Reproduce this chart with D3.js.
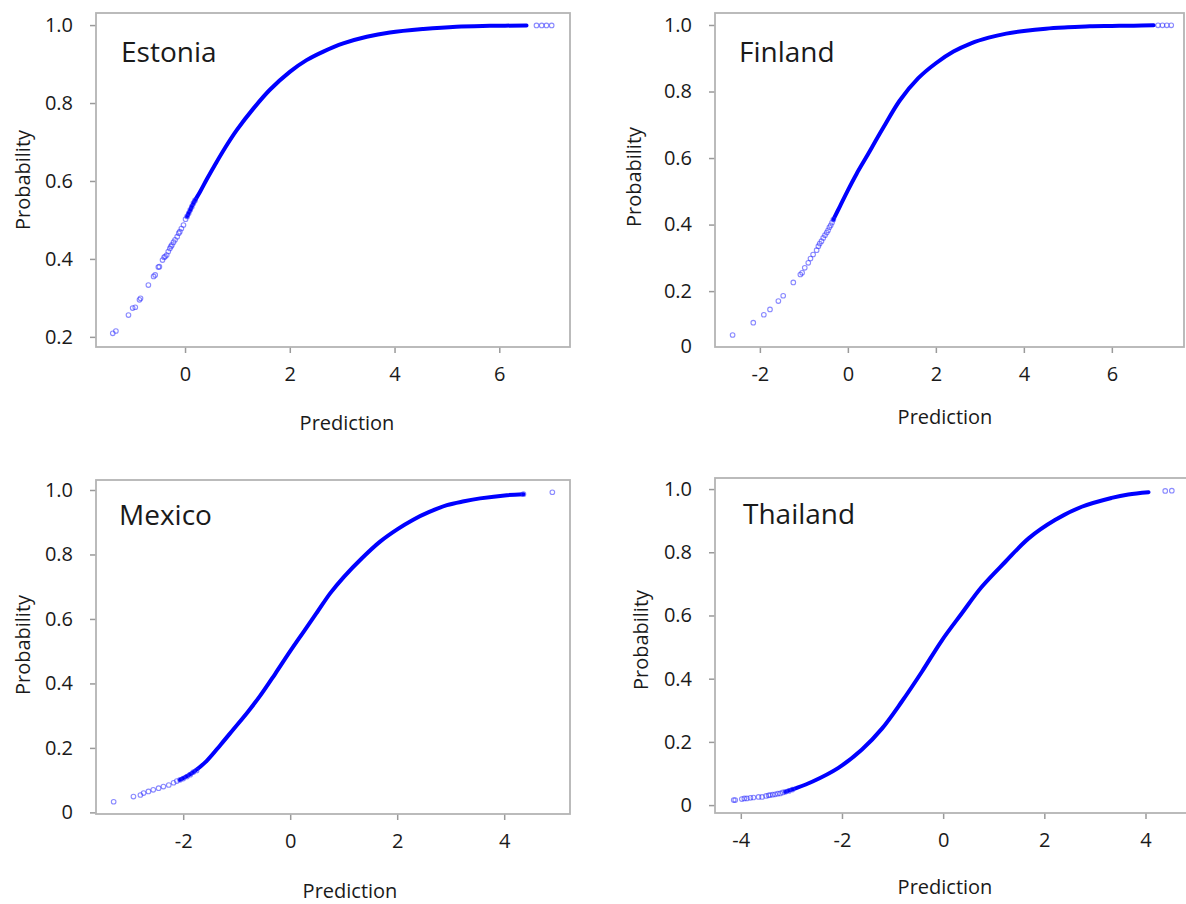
<!DOCTYPE html>
<html>
<head>
<meta charset="utf-8">
<script src="https://cdn.jsdelivr.net/npm/d3@7"></script>
<style>
    body { margin: 0; background: white; }
    text { font-family: "Open Sans", "Noto Sans", sans-serif; fill: #1a1a1a; }
</style>
</head>
<body>
<div id="ChartContainer"></div>
<script>
// values
const Countries = ["Estonia", "Finland", "Mexico", "Thailand"];

const EstoniaDotX = [-1.38, -1.32, -1.08, -1.00, -0.95, -0.87, -0.85, -0.70, -0.60, -0.57, -0.51, -0.49, -0.43, -0.40, -0.38, -0.35, -0.32, -0.29, -0.27, -0.25, -0.22, -0.19, -0.15, -0.12, -0.10, -0.07, -0.03, 0.01, 0.04, 0.07, 0.10, 0.13, 0.16, 0.19, 6.71, 6.81, 6.90, 7.00];
const EstoniaDotY = [0.209, 0.215, 0.256, 0.274, 0.276, 0.295, 0.299, 0.333, 0.355, 0.359, 0.379, 0.380, 0.397, 0.404, 0.406, 0.410, 0.419, 0.427, 0.432, 0.436, 0.443, 0.449, 0.457, 0.466, 0.470, 0.478, 0.487, 0.502, 0.509, 0.517, 0.526, 0.534, 0.543, 0.550, 0.999, 0.999, 0.999, 0.999];
const EstoniaLineX = [0.04, 0.10, 0.16, 0.29, 0.41, 0.57, 0.76, 0.99, 1.30, 1.62, 2.00, 2.32, 2.64, 3.02, 3.47, 3.91, 4.55, 5.18, 5.82, 6.52];
const EstoniaLineY = [0.509, 0.526, 0.543, 0.573, 0.603, 0.641, 0.684, 0.731, 0.785, 0.834, 0.880, 0.910, 0.932, 0.953, 0.970, 0.981, 0.990, 0.996, 0.998, 0.999];

const FinlandDotX = [-2.62, -2.15, -1.91, -1.77, -1.58, -1.47, -1.24, -1.08, -1.04, -0.98, -0.90, -0.85, -0.79, -0.71, -0.67, -0.64, -0.60, -0.56, -0.52, -0.48, -0.45, -0.42, -0.39, -0.36, -0.33, 7.05, 7.15, 7.25, 7.35];
const FinlandDotY = [0.068, 0.105, 0.129, 0.145, 0.170, 0.186, 0.226, 0.250, 0.255, 0.270, 0.285, 0.298, 0.310, 0.323, 0.335, 0.343, 0.350, 0.360, 0.368, 0.376, 0.383, 0.392, 0.398, 0.406, 0.415, 0.999, 0.999, 0.999, 0.999];
const FinlandLineX = [-0.33, -0.18, 0.00, 0.20, 0.42, 0.80, 1.18, 1.60, 2.00, 2.40, 2.80, 3.20, 3.60, 4.00, 4.50, 5.00, 5.50, 6.00, 6.50, 6.95];
const FinlandLineY = [0.415, 0.455, 0.503, 0.553, 0.603, 0.690, 0.773, 0.840, 0.885, 0.920, 0.945, 0.962, 0.974, 0.982, 0.989, 0.993, 0.996, 0.997, 0.998, 0.999];

const MexicoDotX = [-3.30, -2.93, -2.80, -2.74, -2.65, -2.56, -2.46, -2.37, -2.27, -2.18, -2.12, -2.06, -2.00, -1.93, -1.87, -1.81, -1.75, 4.36, 4.90];
const MexicoDotY = [0.033, 0.049, 0.054, 0.060, 0.065, 0.070, 0.075, 0.080, 0.085, 0.092, 0.097, 0.101, 0.105, 0.111, 0.117, 0.125, 0.130, 0.987, 0.993];
const MexicoLineX = [-2.06, -1.81, -1.56, -1.30, -1.06, -0.80, -0.56, -0.28, 0.00, 0.25, 0.50, 0.75, 1.00, 1.35, 1.68, 2.00, 2.30, 2.60, 2.93, 3.25, 3.55, 4.05, 4.36];
const MexicoLineY = [0.101, 0.125, 0.160, 0.210, 0.258, 0.310, 0.362, 0.430, 0.500, 0.560, 0.620, 0.680, 0.730, 0.790, 0.840, 0.878, 0.908, 0.932, 0.953, 0.965, 0.974, 0.984, 0.987];

const ThailandDotX = [-4.14, -4.11, -3.98, -3.93, -3.88, -3.81, -3.75, -3.65, -3.58, -3.50, -3.45, -3.42, -3.37, -3.32, -3.27, -3.22, -3.17, -3.12, -3.05, -2.98, 4.39, 4.52];
const ThailandDotY = [0.016, 0.016, 0.019, 0.021, 0.021, 0.023, 0.024, 0.026, 0.026, 0.029, 0.031, 0.032, 0.033, 0.034, 0.036, 0.037, 0.040, 0.042, 0.045, 0.049, 0.994, 0.995];
const ThailandLineX = [-3.12, -2.92, -2.59, -2.07, -1.61, -1.21, -0.82, -0.42, -0.03, 0.37, 0.76, 1.23, 1.69, 2.21, 2.74, 3.33, 3.66, 4.06];
const ThailandLineY = [0.042, 0.053, 0.074, 0.118, 0.175, 0.242, 0.327, 0.422, 0.520, 0.607, 0.690, 0.770, 0.844, 0.902, 0.944, 0.972, 0.983, 0.990];

const EstoniaXTicks = [0, 2, 4, 6];
const FinlandXTicks = [-2, 0, 2, 4, 6];
const MexicoXTicks = [-2, 0, 2, 4];
const ThailandXTicks = [-4, -2, 0, 2, 4];
const EstoniaYTicks = [0.2, 0.4, 0.6, 0.8, 1.0];
const FinlandYTicks = [0, 0.2, 0.4, 0.6, 0.8, 1.0];
const MexicoYTicks = [0, 0.2, 0.4, 0.6, 0.8, 1.0];
const ThailandYTicks = [0, 0.2, 0.4, 0.6, 0.8, 1.0];

const XLabel = "Prediction";
const YLabel = "Probability";

function Pairs(Xs, Ys)
{
    return Xs.map((x, i) => ({ x: x, y: Ys[i] }));
}

const Panels =
[
    { Name: Countries[0], Box: [96, 13, 570, 347], XDomain: [-1.70, 7.35], YDomain: [0.174, 1.031],
      Dots: Pairs(EstoniaDotX, EstoniaDotY), Line: Pairs(EstoniaLineX, EstoniaLineY),
      XTicks: EstoniaXTicks, YTicks: EstoniaYTicks, Title: [121, 62], XLab: [347, 430], YLab: [23, 180] },
    { Name: Countries[1], Box: [715, 13, 1184, 347], XDomain: [-3.02, 7.64], YDomain: [0.032, 1.036],
      Dots: Pairs(FinlandDotX, FinlandDotY), Line: Pairs(FinlandLineX, FinlandLineY),
      XTicks: FinlandXTicks, YTicks: FinlandYTicks, Title: [739, 62], XLab: [945, 424], YLab: [634, 177] },
    { Name: Countries[2], Box: [96, 480, 570, 814], XDomain: [-3.63, 5.23], YDomain: [-0.005, 1.031],
      Dots: Pairs(MexicoDotX, MexicoDotY), Line: Pairs(MexicoLineX, MexicoLineY),
      XTicks: MexicoXTicks, YTicks: MexicoYTicks, Title: [119, 525], XLab: [350, 898], YLab: [23, 645] },
    { Name: Countries[3], Box: [715, 478, 1188, 813], XDomain: [-4.51, 4.84], YDomain: [-0.025, 1.035],
      Dots: Pairs(ThailandDotX, ThailandDotY), Line: Pairs(ThailandLineX, ThailandLineY),
      XTicks: ThailandXTicks, YTicks: ThailandYTicks, Title: [743, 524], XLab: [945, 894], YLab: [641, 640] }
];

function DrawPanel(Svg, Panel)
{
    const [Left, Top, Right, Bottom] = Panel.Box;
    const Width = Right - Left;
    const Height = Bottom - Top;
    const xScale = d3.scaleLinear().domain(Panel.XDomain).range([0, Width]);
    const yScale = d3.scaleLinear().domain(Panel.YDomain).range([Height, 0]);
    const G = Svg.append('g').attr('transform', `translate(${Left}, ${Top})`);

    // x axis
    const XAxis = G.append('g')
                   .attr('transform', `translate(0, ${Height})`)
                   .call(d3.axisBottom(xScale).tickValues(Panel.XTicks).tickSize(6).tickPadding(14).tickFormat(d3.format('d')));
    XAxis.select('.domain').remove();
    XAxis.selectAll('line').attr('stroke', '#9a9a9a').attr('stroke-width', 1.5);
    XAxis.selectAll('text').style('font-size', '20px').attr('fill', '#1a1a1a')
         .text(d => d < 0 ? '-' + Math.abs(d) : d);

    // y axis, ticks below the box are pulled up to its edge
    const YAxis = G.append('g')
                   .call(d3.axisLeft(yScale).tickValues(Panel.YTicks).tickSize(6).tickPadding(17)
                           .tickFormat(d => d === 0 ? '0' : d3.format('.1f')(d)));
    YAxis.select('.domain').remove();
    YAxis.selectAll('.tick').each(function(d)
    {
        const y = yScale(d);
        if (y > Height)
        {
            d3.select(this).attr('transform', `translate(0, ${Height})`);
            d3.select(this).select('line').remove();
        }
    });
    YAxis.selectAll('line').attr('stroke', '#9a9a9a').attr('stroke-width', 1.5);
    YAxis.selectAll('text').style('font-size', '20px').attr('fill', '#1a1a1a');

    // box
    G.append('rect')
     .attr('x', 0).attr('y', 0)
     .attr('width', Width).attr('height', Height)
     .attr('fill', 'none')
     .attr('stroke', '#b4b4b4')
     .attr('stroke-width', 1.8);

    // dense part of the curve
    const LineGen = d3.line().x(d => xScale(d.x)).y(d => yScale(d.y)).curve(d3.curveCatmullRom.alpha(0.5));
    G.append('path')
     .datum(Panel.Line)
     .attr('d', LineGen)
     .attr('fill', 'none')
     .attr('stroke', '#0000ff')
     .attr('stroke-width', 4)
     .attr('stroke-linecap', 'round');

    // sparse open circles
    G.selectAll('circle.dot')
     .data(Panel.Dots)
     .enter()
     .append('circle')
     .attr('class', 'dot')
     .attr('cx', d => xScale(d.x))
     .attr('cy', d => yScale(d.y))
     .attr('r', 2.3)
     .attr('fill', 'none')
     .attr('stroke', '#2a2aff')
     .attr('stroke-opacity', 0.55)
     .attr('stroke-width', 1.1);

    // country name
    Svg.append('text')
       .attr('x', Panel.Title[0])
       .attr('y', Panel.Title[1])
       .style('font-size', '28px')
       .text(Panel.Name);

    Svg.append('text')
       .attr('x', Panel.XLab[0])
       .attr('y', Panel.XLab[1])
       .attr('text-anchor', 'middle')
       .style('font-size', '20px')
       .text(XLabel);

    Svg.append('text')
       .attr('transform', `translate(${Panel.YLab[0]}, ${Panel.YLab[1]}) rotate(-90)`)
       .attr('text-anchor', 'middle')
       .attr('dy', '0.35em')
       .style('font-size', '20px')
       .text(YLabel);
}

const Svg = d3.select('#ChartContainer')
              .append('svg')
              .attr('width', 1186)
              .attr('height', 904)
              .style('background-color', 'white');

Panels.forEach(Panel => DrawPanel(Svg, Panel));
</script>
</body>
</html>
